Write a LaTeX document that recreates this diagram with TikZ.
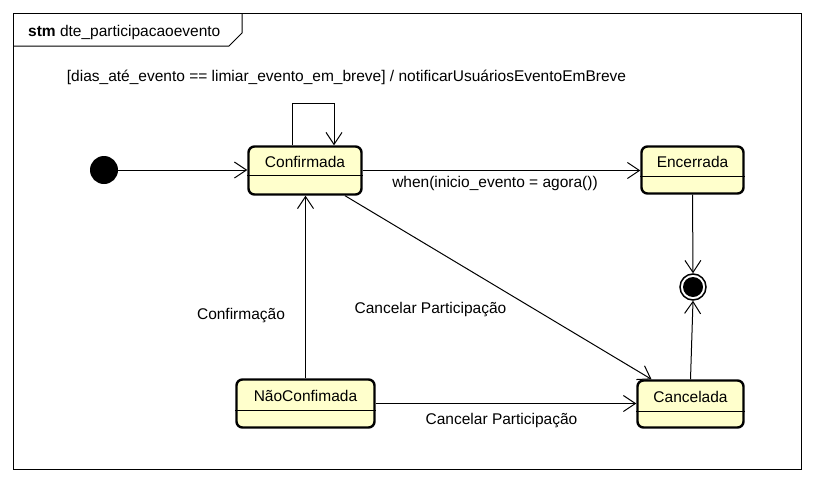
\documentclass[tikz,border=0pt]{standalone}
\usepackage{fontspec}
\setmainfont{Liberation Sans}
\usetikzlibrary{arrows.meta}
\definecolor{statefill}{RGB}{255,255,204}
\begin{document}
\begin{tikzpicture}[x=1pt,y=-1pt,
  every node/.style={font=\fontsize{15.5}{18}\selectfont, inner sep=0pt},
  state/.style={draw=black, line width=2.4pt, rounded corners=6pt, fill=statefill},
  divider/.style={line width=1pt},
  tr/.style={line width=1pt, -{Straight Barb[length=12pt,width=16pt,line width=1pt]}},
  lbl/.style={text=black}
]
\useasboundingbox (0,0) rectangle (813,482);
\fill[white] (0,0) rectangle (813,482);
% frame
\draw[line width=1pt] (13,13) rectangle (801,469);
\draw[line width=1pt] (13,46) -- (229,46) -- (242,33) -- (242,13);
\node[anchor=west] (title) at (28,32) {\textbf{stm} dte\_participacaoevento};

% states
\node[state, minimum width=113pt, minimum height=48pt] (conf) at (305,170.5) {};
\node[lbl] (confT) at ([yshift=-17pt]conf.north) {Confirmada};
\draw[divider] ([yshift=-30pt]conf.north west) -- ([yshift=-30pt]conf.north east);

\node[state, minimum width=102pt, minimum height=47pt] (enc) at (692.5,170) {};
\node[lbl] (encT) at ([yshift=-17pt]enc.north) {Encerrada};
\draw[divider] ([yshift=-31pt]enc.north west) -- ([yshift=-31pt]enc.north east);

\node[state, minimum width=106pt, minimum height=47pt] (canc) at (690.5,404) {};
\node[lbl] (cancT) at ([yshift=-18pt]canc.north) {Cancelada};
\draw[divider] ([yshift=-32pt]canc.north west) -- ([yshift=-32pt]canc.north east);

\node[state, minimum width=138pt, minimum height=48pt] (nc) at (305.5,403.5) {};
\node[lbl] (ncT) at ([yshift=-18pt]nc.north) {NãoConfimada};
\draw[divider] ([yshift=-32pt]nc.north west) -- ([yshift=-32pt]nc.north east);

% initial and final
\node[circle, fill=black, minimum size=28pt] (init) at (104,170) {};
\node[circle, draw=black, line width=1.5pt, fill=white, minimum size=26pt] (fin) at (693,287) {};
\node[circle, fill=black, minimum size=20pt] (finI) at (fin.center) {};

% transitions
\draw[tr] (init.east) -- (init.east -| conf.west);
\draw[tr] ([xshift=-13pt]conf.north) -- ++(0,-42) -| ([xshift=29pt]conf.north);
\draw[tr] (conf.east) -- (conf.east -| enc.west);
\draw[tr] ([xshift=40pt]conf.south) -- ([xshift=-39pt]canc.north);
\draw[tr] (nc.north) -- (nc.north |- conf.south);
\draw[tr] (nc.east) -- (nc.east -| canc.west);
\draw[tr] (enc.south) -- (fin.north);
\draw[tr] (canc.north) -- (fin.south);

% labels
\node[lbl] (lLoop) at (346.5,77) {[dias\_até\_evento == limiar\_evento\_em\_breve] / notificarUsuáriosEventoEmBreve};
\node[lbl] (lWhen) at (495,183) {when(inicio\_evento = agora())};
\node[lbl] (lCanc1) at (430.5,310) {Cancelar Participação};
\node[lbl] (lConf) at (241,316) {Confirmação};
\node[lbl] (lCanc2) at (501.5,421) {Cancelar Participação};
\end{tikzpicture}
\end{document}
